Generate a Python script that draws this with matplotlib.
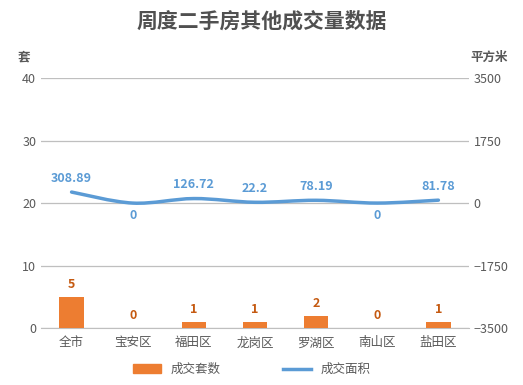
import matplotlib
matplotlib.use("Agg")
import matplotlib.pyplot as plt
from matplotlib.path import Path
from matplotlib.patches import PathPatch
from matplotlib.lines import Line2D
from matplotlib.patches import Patch

plt.rcParams["font.family"] = ["Noto Sans CJK SC", "DejaVu Sans"]

districts = ["全市", "宝安区", "福田区", "龙岗区", "罗湖区", "南山区", "盐田区"]
deal_counts = [5, 0, 1, 1, 2, 0, 1]
deal_areas = [308.89, 0, 126.72, 22.2, 78.19, 0, 81.78]
area_labels = ["308.89", "0", "126.72", "22.2", "78.19", "0", "81.78"]

bar_color = "#ED7D31"
line_color = "#5B9BD5"
text_gray = "#595959"
grid_gray = "#BFBFBF"


def smooth_path(xs, ys, tension=0.5):
    """Catmull-Rom style cubic bezier through the points"""
    verts = [(xs[0], ys[0])]
    codes = [Path.MOVETO]
    n = len(xs)
    for i in range(n - 1):
        x0, y0 = (xs[i - 1], ys[i - 1]) if i > 0 else (xs[i], ys[i])
        x1, y1 = xs[i], ys[i]
        x2, y2 = xs[i + 1], ys[i + 1]
        x3, y3 = (xs[i + 2], ys[i + 2]) if i + 2 < n else (x2, y2)
        c1 = (x1 + (x2 - x0) * tension / 3, y1 + (y2 - y0) * tension / 3)
        c2 = (x2 - (x3 - x1) * tension / 3, y2 - (y3 - y1) * tension / 3)
        verts += [c1, c2, (x2, y2)]
        codes += [Path.CURVE4] * 3
    return Path(verts, codes)


fig = plt.figure(figsize=[5.23, 3.85], dpi=100)
ax = fig.add_axes([0.0784, 0.148, 0.8183, 0.649])
ax2 = ax.twinx()

x = list(range(len(districts)))
rects = ax.bar(x, deal_counts, width=0.4, color=bar_color, zorder=3)
ax.bar_label(rects, labels=[str(v) for v in deal_counts], padding=4,
             color="#C55A11", fontsize=9, fontweight="bold")

ax.set_xlim(-0.5, len(districts) - 0.5)
ax.set_ylim(0, 40)
ax.set_yticks([0, 10, 20, 30, 40])
ax.yaxis.grid(True, color=grid_gray, linewidth=0.9)
ax.set_axisbelow(True)
ax.set_xticks(x)
ax.set_xticklabels(districts)
ax.tick_params(axis="both", length=0, colors=text_gray, labelsize=9)
ax.tick_params(axis="x", pad=6)
for side in ["top", "left", "right"]:
    ax.spines[side].set_visible(False)
ax.spines["bottom"].set_color(grid_gray)

ax2.set_ylim(-3500, 3500)
ax2.set_yticks([-3500, -1750, 0, 1750, 3500])
ax2.tick_params(axis="y", length=0, colors=text_gray, labelsize=9)
for side in ["top", "left", "right", "bottom"]:
    ax2.spines[side].set_visible(False)

path = smooth_path(x, deal_areas)
ax2.add_patch(PathPatch(path, facecolor="none", edgecolor=line_color,
                        linewidth=2.5, capstyle="round", zorder=4))
for xi, yi, lab in zip(x, deal_areas, area_labels):
    dy = -9 if yi == 0 else 10
    ax2.annotate(lab, (xi, yi), xytext=(0, dy), textcoords="offset points",
                 ha="center", va="center", color=line_color,
                 fontsize=9, fontweight="bold")

fig.text(0.5, 0.945, "周度二手房其他成交量数据", ha="center", va="center",
         fontsize=15, fontweight="bold", color="#505050")
fig.text(0.045, 0.852, "套", ha="center", va="center", fontsize=9,
         fontweight="bold", color=text_gray)
fig.text(0.935, 0.852, "平方米", ha="center", va="center", fontsize=9,
         fontweight="bold", color=text_gray)

handles = [Patch(color=bar_color), Line2D([0], [0], color=line_color, linewidth=2.5)]
fig.legend(handles, ["成交套数", "成交面积"], loc="center", ncol=2,
           bbox_to_anchor=(0.482, 0.04), frameon=False, fontsize=9,
           labelcolor=text_gray, handlelength=2.2, columnspacing=5)

fig.savefig("out.png", dpi=100)
